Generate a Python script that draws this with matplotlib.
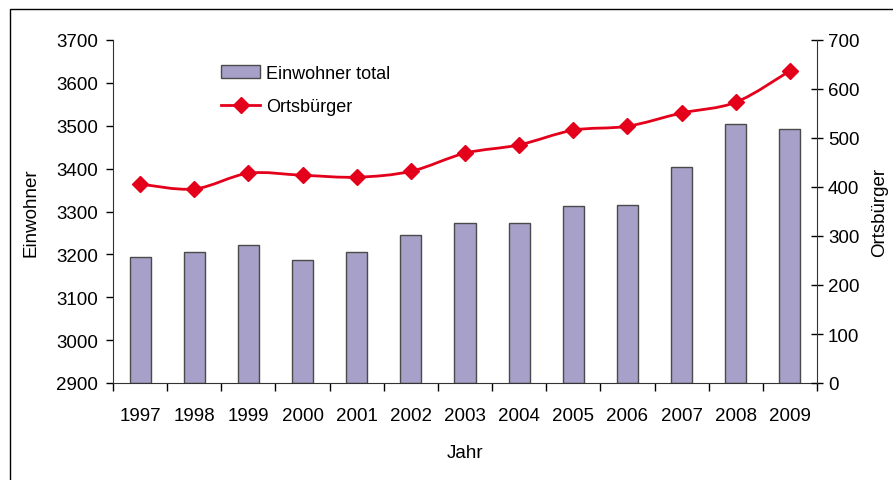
import numpy as np
import matplotlib
matplotlib.use("Agg")
import matplotlib.pyplot as plt
from matplotlib.path import Path
from matplotlib.patches import PathPatch, Rectangle
from matplotlib.lines import Line2D

plt.rcParams['font.family'] = ['Liberation Sans', 'DejaVu Sans']
plt.rcParams['font.size'] = 13.5

years = ["1997", "1998", "1999", "2000", "2001", "2002", "2003",
         "2004", "2005", "2006", "2007", "2008", "2009"]
einwohner = [3195, 3205, 3222, 3187, 3205, 3245, 3273,
             3273, 3313, 3315, 3404, 3504, 3492]
ortsbuerger = [406, 396, 428, 424, 420, 432, 469,
               486, 516, 524, 551, 573, 637]

bar_col = "#A7A0C8"
line_col = "#E4001B"

fig = plt.figure(figsize=(8.93, 4.81), dpi=100)
fig.patches.append(Rectangle((10 / 893, -0.1), 2, 1.1 - 10 / 481, transform=fig.transFigure,
                             fill=False, edgecolor="black", linewidth=1.0))

ax = fig.add_axes([113 / 893, 1 - 384 / 481, 704 / 893, 343 / 481])
x = np.arange(len(years))
bars = ax.bar(x, [v - 2900 for v in einwohner], bottom=2900, width=0.39,
              color=bar_col, edgecolor="#4a4a4a", linewidth=1.0, zorder=2,
              label="Einwohner total")
ax.set_xlim(-0.5, len(years) - 0.5)
ax.set_ylim(2900, 3700)
ax.set_yticks(range(2900, 3701, 100))
ax.set_xticks(x)
ax.set_xticklabels(years)
ax.set_xticks(np.arange(-0.5, len(years), 1), minor=True)
ax.tick_params(axis="x", which="major", length=0, pad=17)
ax.tick_params(axis="x", which="minor", length=6, direction="out", width=1)
ax.tick_params(axis="y", length=5, direction="out", width=1, pad=6)
for s in ["top", "right"]:
    ax.spines[s].set_visible(False)
ax.spines["left"].set_color("#333333")
ax.spines["bottom"].set_color("#333333")
ax.set_ylabel("Einwohner", labelpad=12)
ax.set_xlabel("Jahr", labelpad=15)

ax2 = ax.twinx()
ax2.set_ylim(0, 700)
ax2.set_yticks(range(0, 701, 100))
ax2.tick_params(axis="y", length=8, direction="inout", width=1, pad=4)
for s in ["top", "left", "bottom"]:
    ax2.spines[s].set_visible(False)
ax2.spines["right"].set_color("#333333")
ax2.set_ylabel("Ortsbürger", labelpad=8)

# smooth connecting curve through the points (Catmull-Rom as cubic Bezier)
pts = np.column_stack([x, ortsbuerger]).astype(float)
verts = [tuple(pts[0])]
codes = [Path.MOVETO]
for i in range(len(pts) - 1):
    p0 = pts[i - 1] if i > 0 else pts[i]
    p1 = pts[i]
    p2 = pts[i + 1]
    p3 = pts[i + 2] if i + 2 < len(pts) else pts[i + 1]
    c1 = p1 + (p2 - p0) / 6.0
    c2 = p2 - (p3 - p1) / 6.0
    verts += [tuple(c1), tuple(c2), tuple(p2)]
    codes += [Path.CURVE4] * 3
ax2.add_patch(PathPatch(Path(verts, codes), fill=False, edgecolor=line_col,
                        linewidth=2, zorder=3))
ax2.plot(x, ortsbuerger, linestyle="none", marker="D", markersize=8.5,
         color=line_col, zorder=4)

handles = [bars, Line2D([], [], color=line_col, linewidth=2, marker="D", markersize=8.5)]
ax.legend(handles, ["Einwohner total", "Ortsbürger"], loc="upper left",
          bbox_to_anchor=(0.13, 0.975), frameon=False, handlelength=2.2,
          handletextpad=0.3, labelspacing=0.9, fontsize=13)

fig.savefig("out.png", dpi=100)
